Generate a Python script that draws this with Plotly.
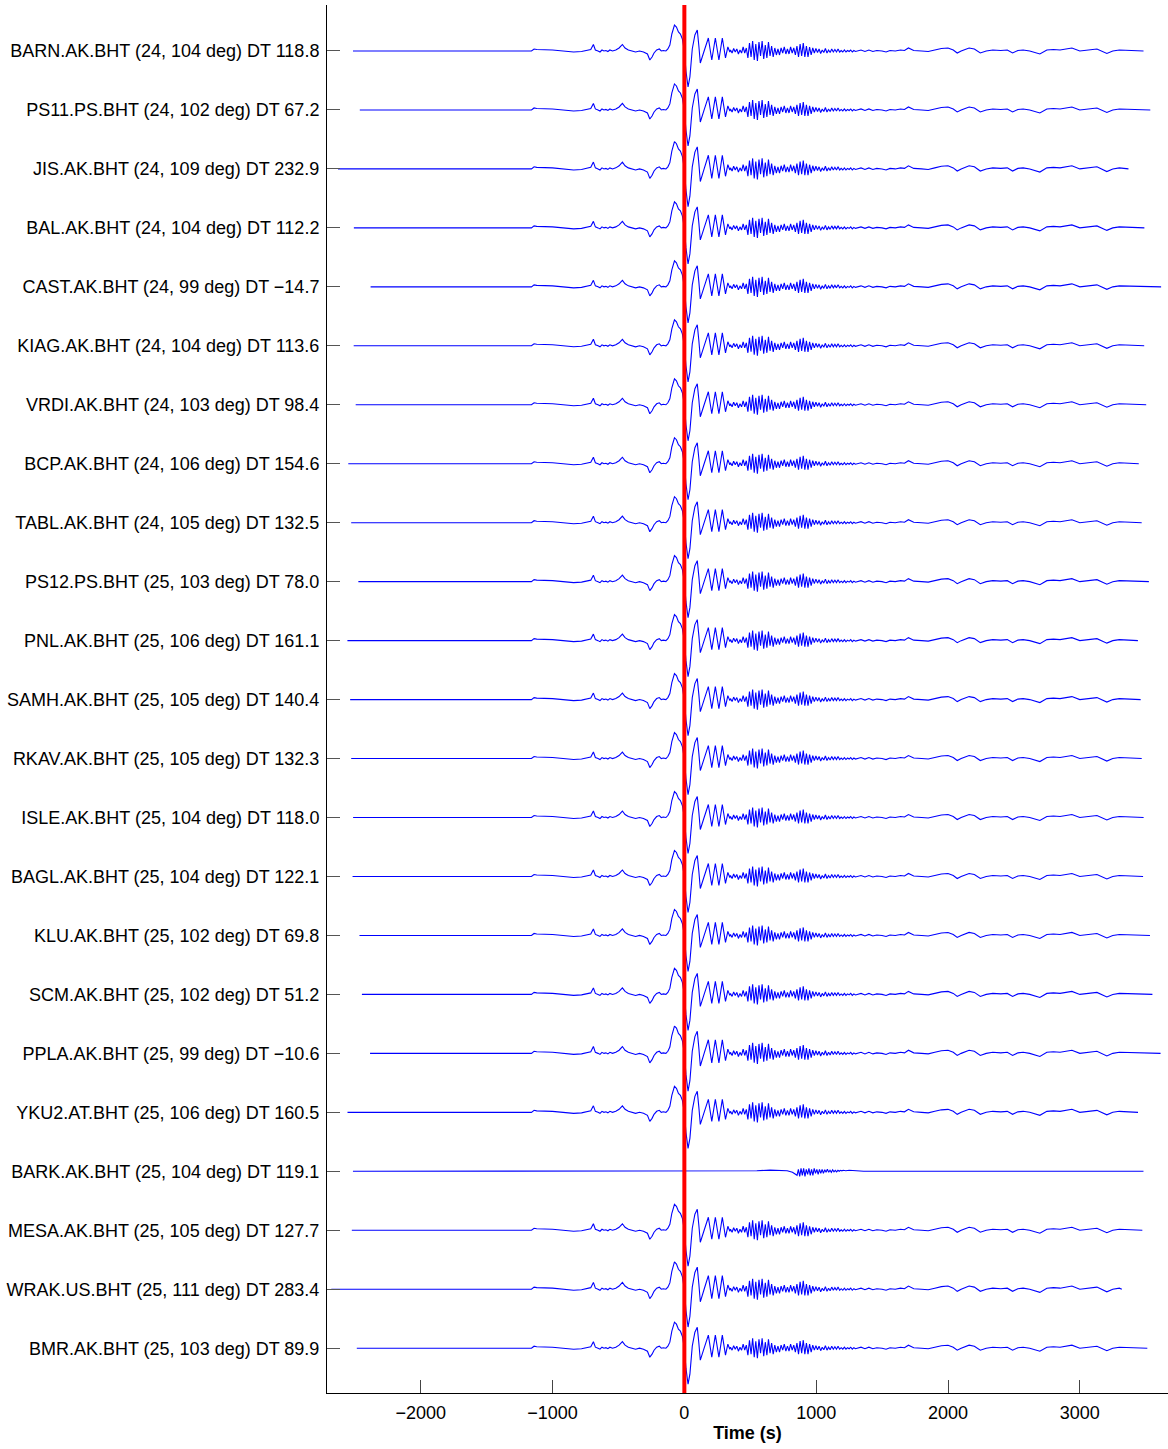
import plotly.graph_objects as go

# ---------------- data ----------------
STATIONS = ["BARN.AK.BHT", "PS11.PS.BHT", "JIS.AK.BHT", "BAL.AK.BHT", "CAST.AK.BHT",
            "KIAG.AK.BHT", "VRDI.AK.BHT", "BCP.AK.BHT", "TABL.AK.BHT", "PS12.PS.BHT",
            "PNL.AK.BHT", "SAMH.AK.BHT", "RKAV.AK.BHT", "ISLE.AK.BHT", "BAGL.AK.BHT",
            "KLU.AK.BHT", "SCM.AK.BHT", "PPLA.AK.BHT", "YKU2.AT.BHT", "BARK.AK.BHT",
            "MESA.AK.BHT", "WRAK.US.BHT", "BMR.AK.BHT"]
DIST_DEG = [24, 24, 24, 24, 24, 24, 24, 24, 24, 25, 25, 25, 25, 25, 25, 25, 25, 25, 25, 25, 25, 25, 25]
AZIMUTH = [104, 102, 109, 104, 99, 104, 103, 106, 105, 103, 106, 105, 105, 104, 104,
           102, 102, 99, 106, 104, 105, 111, 103]
DT = [118.8, 67.2, 232.9, 112.2, -14.7, 113.6, 98.4, 154.6, 132.5, 78.0, 161.1, 140.4,
      132.3, 118.0, 122.1, 69.8, 51.2, -10.6, 160.5, 119.1, 127.7, 283.4, 89.9]
AMP = [1.0, 1.0, 1.05, 1.0, 1.0, 1.0, 1.0, 1.0, 1.0, 1.0, 1.0, 1.0, 1.0, 1.0, 1.0,
       1.0, 1.0, 1.05, 1.0, 1.0, 1.0, 1.05, 1.0]

# record window (s) relative to the aligned pulse, before subtracting DT
REC_START = -2395.0
REC_END = 3602.0

# template waveform (time s, amplitude in pixel-ish units, + up)
PRE_T = [-1160, -1140, -1120, -1000, -900, -840, -780, -740, -710, -690, -675, -655, -640,
         -625, -610, -595, -580, -565, -545, -520, -495, -470, -450, -425, -400, -370, -340,
         -310, -280, -262, -245, -230, -210, -190, -175, -160, -140, -125, -110, -95, -75,
         -60, -45, -30, -15, 0, 12, 28, 42, 60, 80, 98, 110, 121, 150, 182, 208, 235, 262,
         288, 312, 330, 345]
PRE_A = [0, 2, 1.5, 1, 0, -1, -0.5, 0.5, 1.5, 6.5, 1, 0, -1,
         1, 0, 0.5, -0.5, 1, 0, 1, 3, 6.5, 3, 1, 0, -1, 0,
         -1, -3, -9, -6, -2, 1, 2, 0, 0.5, 0, 2, 6, 17, 26,
         24, 19, 17, 12, 0, -20, -36, -26, 2, 16, 21, 5, -12, 0, 13, -9, 13, -9,
         13, -7, 4, -1]

BURST_T0 = 350
BURST_STEP = 12
BURST_A = [1, -2, 2.5, -1, 2, -3, 1, -2, 4, -2, 3,
           -7, 8, -6, 10, -9, 7, -10, 9, -5, 10, -8, 6, -7, 9, -5, 5, -6, 3,
           -4, 2, -4, 3, -2, 4, -3, 2, -3, 4, -2, 3, -4, 5,
           -6, 7, -5, 8, -6, 5, -6, 4, -4, 3, -2,
           2.5, -1.5, 2, -2.5, 1, -1.5, 2.5, -2, 1, -1.5, 2, -1, 1.5, -1, 2, -1, 0.5, -1,
           1, -1, 0.5, -0.5, 1, -1, 0.5, -0.5]

TAIL_T = [1310, 1340, 1370, 1400, 1430, 1460, 1500, 1530, 1560, 1600, 1640, 1670, 1700,
          1740, 1800, 1850, 1900, 1950, 2000, 2040, 2070, 2100, 2160, 2200, 2245, 2290,
          2340, 2400, 2450, 2490, 2530, 2570, 2620, 2697, 2750, 2800, 2850, 2940, 3000,
          3060, 3130, 3205, 3250, 3300, 3400, 3700]
TAIL_A = [0, 1, -0.5, 1, -0.5, 0.5, 0, -1, 0.5, 0, 1, 0.5, 3,
          0.5, 0, -0.5, 1, 2.5, 3, 1, -2, 0, 3, 2, -2, 0,
          1, 0.5, 1, -2, 0.5, 1, 0, -3, 1, 1.5, 1, 3, 0,
          1, 2, -2.5, 0, 1, 0.5, 0]

# BARK: nearly flat record with one small late burst
BARK_T = [450, 550, 650, 730, 780, 820, 845]
BARK_A = [0, 0.5, 1.2, 1.2, 0.5, -1, -3]
BARK_BURST_T0 = 855
BARK_BURST_STEP = 10
BARK_BURST_A = [-4, 2, -5, 3, -4, 3, -5, 2, -3, 3, -4, 2, -4, 3, -2, 2, -3, 2, -2, 2,
                -2, 1.5, -1, 2, -1, 1, -1, 1.5, -0.5, 1, -0.5, 1, 0, 1, 0.5, 1, 0.5, 0.5]
BARK_TAIL_T = [1250, 1300, 1360]
BARK_TAIL_A = [1, 0.5, 0]

X_TICKS = [-2000, -1000, 0, 1000, 2000, 3000]
X_RANGE = [-2711, 3669]
TRACE_SPACING_PX = 58.95

# ---------------- build ----------------
burst_t = [BURST_T0 + BURST_STEP * i for i in range(len(BURST_A))]
TPL_T = PRE_T + burst_t + TAIL_T
TPL_A = PRE_A + BURST_A + TAIL_A

bark_bt = [BARK_BURST_T0 + BARK_BURST_STEP * i for i in range(len(BARK_BURST_A))]
BARK_FULL_T = BARK_T + bark_bt + BARK_TAIL_T
BARK_FULL_A = BARK_A + BARK_BURST_A + BARK_TAIL_A

fig = go.Figure()
labels = []
for i, st in enumerate(STATIONS):
    pos = i + 1
    d = DT[i]
    dtxt = f"{d:.1f}".replace("-", "\u2212")
    labels.append(f"{st} ({DIST_DEG[i]}, {AZIMUTH[i]} deg) DT {dtxt}")
    t0 = REC_START - d
    t1 = REC_END - d
    if st.startswith("BARK"):
        st_t, st_a = BARK_FULL_T, BARK_FULL_A
    else:
        st_t, st_a = TPL_T, TPL_A
    xs = [t0]
    ys = [pos]
    for t, a in zip(st_t, st_a):
        if t0 < t < t1:
            xs.append(t)
            ys.append(pos - AMP[i] * a / TRACE_SPACING_PX)
    xs.append(t1)
    ys.append(pos)
    fig.add_trace(go.Scatter(x=xs, y=ys, mode="lines",
                             line=dict(color="#0000ff", width=1.1),
                             hoverinfo="skip", showlegend=False))

fig.add_shape(type="line", x0=0, x1=0, xref="x", y0=0, y1=1, yref="paper",
              line=dict(color="#ff0000", width=4), layer="above")

FONT = "Liberation Sans, Arial, Helvetica, sans-serif"
fig.update_layout(
    width=1168, height=1449,
    margin=dict(l=327, r=0, t=5, b=56),
    paper_bgcolor="white", plot_bgcolor="white",
    font=dict(family=FONT, size=18, color="black"),
    xaxis=dict(range=X_RANGE, tickvals=X_TICKS,
               ticktext=[f"{v}".replace("-", "\u2212") for v in X_TICKS],
               showgrid=False, zeroline=False, showline=True, linecolor="black",
               linewidth=1, ticks="inside", ticklen=13, tickcolor="#444",
               tickfont=dict(size=18), ticklabelstandoff=3,
               title=dict(text="<b>Time (s)</b>", font=dict(size=18), standoff=4)),
    yaxis=dict(range=[23.76, 0.22], tickvals=list(range(1, len(STATIONS) + 1)),
               ticktext=labels, showgrid=False, zeroline=False, showline=True,
               linecolor="black", linewidth=1, ticks="inside", ticklen=13,
               tickcolor="#555", tickfont=dict(size=18), ticklabelstandoff=3),
)

fig.write_html("out.html")
